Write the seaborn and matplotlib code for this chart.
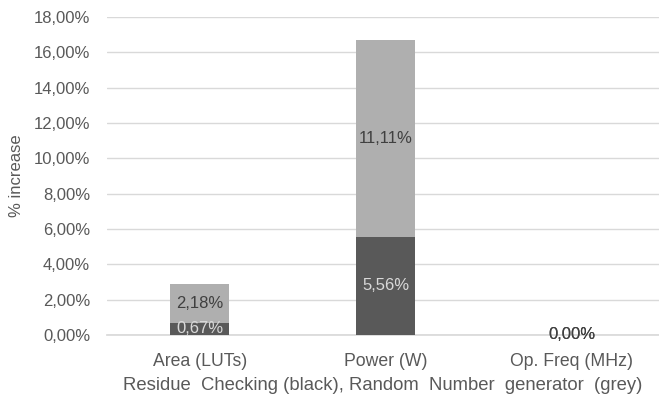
import matplotlib
matplotlib.use("Agg")
import matplotlib.pyplot as plt
import seaborn as sns
import pandas as pd

categories = ["Area (LUTs)", "Power (W)", "Op. Freq (MHz)"]
residue_checking = [0.67, 5.56, 0.00]   # black segment, %
random_number_gen = [2.18, 11.11, 0.00]  # grey segment, %
y_ticks = [0, 2, 4, 6, 8, 10, 12, 14, 16, 18]

DARK = "#595959"
GREY = "#AFAFAF"
TEXT = "#595959"
FS = 12

sns.set_theme(style="white")
plt.rcParams["font.family"] = ["Liberation Sans", "DejaVu Sans"]

totals = [a + b for a, b in zip(residue_checking, random_number_gen)]
df = pd.DataFrame({"cat": categories, "rc": residue_checking,
                   "rng": random_number_gen, "total": totals})

fig = plt.figure(figsize=(6.59, 4.01), dpi=100)
ax = fig.add_axes([0.162, 0.165, 0.838, 0.793])

# stacked bars: grey total behind, dark residue part in front
sns.barplot(data=df, x="cat", y="total", order=categories, color=GREY,
            width=0.315, saturation=1, linewidth=0, ax=ax, zorder=2)
sns.barplot(data=df, x="cat", y="rc", order=categories, color=DARK,
            width=0.315, saturation=1, linewidth=0, ax=ax, zorder=3)

ax.set_ylim(0, 18)
ax.set_xlim(-0.5, 2.47)
ax.set_yticks(y_ticks)
ax.set_yticklabels([f"{v:.2f}%".replace(".", ",") for v in y_ticks])
ax.yaxis.grid(True, color="#D9D9D9", linewidth=1, zorder=0)
ax.set_axisbelow(True)
for s in ax.spines.values():
    s.set_visible(False)
ax.spines["bottom"].set_visible(True)
ax.spines["bottom"].set_color("#D9D9D9")
ax.tick_params(axis="both", length=0, colors=TEXT, labelsize=FS)
ax.tick_params(axis="y", pad=12)
ax.tick_params(axis="x", pad=13, labelsize=12.7)

ax.set_ylabel("% increase", color=TEXT, fontsize=FS, labelpad=7)
ax.set_xlabel("Residue  Checking (black), Random  Number  generator  (grey)",
              color=TEXT, fontsize=13.3, labelpad=5)

def fmt(v):
    return f"{v:.2f}%".replace(".", ",")

for i, (rc, rng) in enumerate(zip(residue_checking, random_number_gen)):
    ax.text(i, rc + rng / 2, fmt(rng), ha="center", va="center",
            color="#404040", fontsize=FS, zorder=5)
    ax.text(i, rc / 2, fmt(rc), ha="center", va="center",
            color="#D9D9D9" if rc > 0 else "#404040", fontsize=FS, zorder=5)

fig.savefig("out.png", dpi=100)
